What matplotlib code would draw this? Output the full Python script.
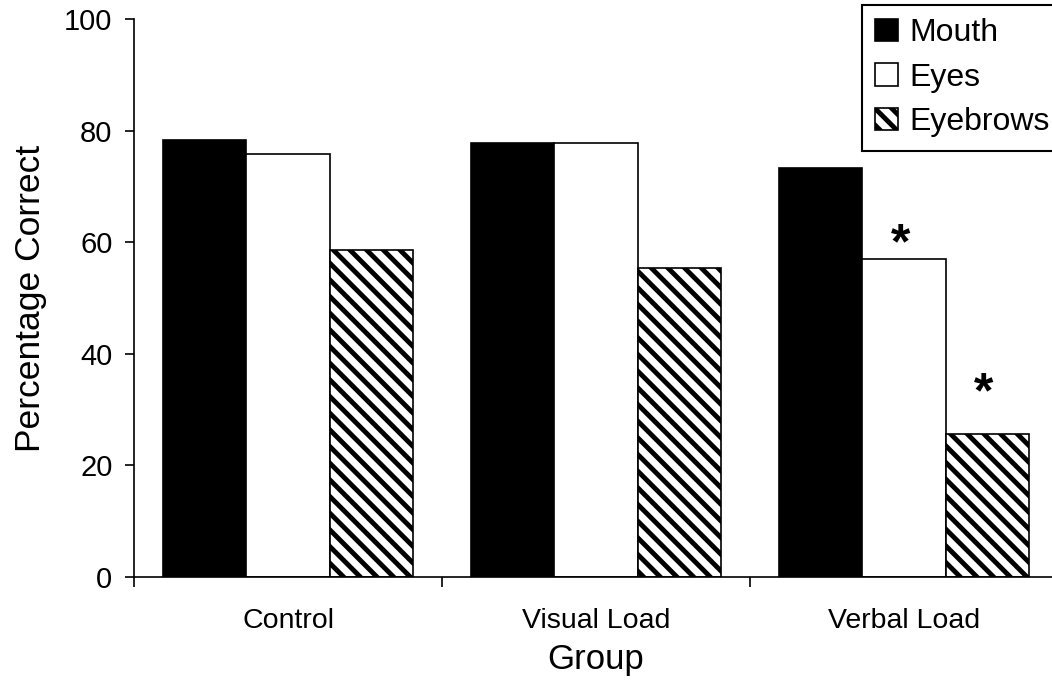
import matplotlib
matplotlib.use("Agg")
import matplotlib.pyplot as plt
import numpy as np

plt.rcParams["font.family"] = ["Liberation Sans", "DejaVu Sans"]
plt.rcParams["hatch.linewidth"] = 3.5

groups = ["Control", "Visual Load", "Verbal Load"]
features = ["Mouth", "Eyes", "Eyebrows"]
mouth = [78.3, 77.8, 73.3]
eyes = [75.8, 77.8, 57.0]
eyebrows = [58.6, 55.4, 25.6]
# significance markers: (group index, feature index, marker height)
stars = [(2, 1, 60.3), (2, 2, 33.7)]

series = [mouth, eyes, eyebrows]
faces = ["black", "white", "white"]
hatches = [None, None, "\\\\"]

fig = plt.figure(figsize=(10.52, 6.85), dpi=100)
ax = fig.add_axes([134 / 1052, 108 / 685, 924 / 1052, 558 / 685])

x = np.arange(len(groups))
w = 0.27
offsets = [-w, 0, w]
for vals, fc, h, off, name in zip(series, faces, hatches, offsets, features):
    ax.bar(x + off, vals, width=w, color=fc, edgecolor="black",
           linewidth=1.2, hatch=h, label=name)

for gi, fi, ys in stars:
    ax.text(x[gi] + offsets[fi] - 0.01, ys, "*", ha="center", va="center_baseline",
            fontsize=36, fontweight="bold")

ax.set_xlim(-0.5, 2.5)
ax.set_ylim(0, 100)
ax.set_yticks(np.arange(0, 101, 20))
ax.set_xticks(x)
ax.set_xticklabels(groups)
ax.set_xticks([-0.5, 0.5, 1.5, 2.5], minor=True)
ax.tick_params(axis="x", which="major", length=0, pad=22, labelsize=20.5)
ax.tick_params(axis="x", which="minor", length=7, width=1.2)
ax.tick_params(axis="y", length=6.5, width=1.2, pad=9, labelsize=21)
for s in ["top", "right"]:
    ax.spines[s].set_visible(False)
for s in ["left", "bottom"]:
    ax.spines[s].set_linewidth(1.2)

ax.set_xlabel("Group", fontsize=25, labelpad=7)
ax.set_ylabel("Percentage Correct", fontsize=25.5, labelpad=12)

leg = ax.legend(loc="upper left", bbox_to_anchor=(862 / 1052, 1 - 5 / 685),
                bbox_transform=fig.transFigure, fontsize=23, frameon=True,
                fancybox=False, edgecolor="black", framealpha=1,
                handlelength=0.7, handleheight=0.7, handletextpad=0.35,
                labelspacing=0.45, borderpad=0.42, borderaxespad=0)
leg.get_frame().set_linewidth(1.5)

fig.savefig("out.png", dpi=100)
